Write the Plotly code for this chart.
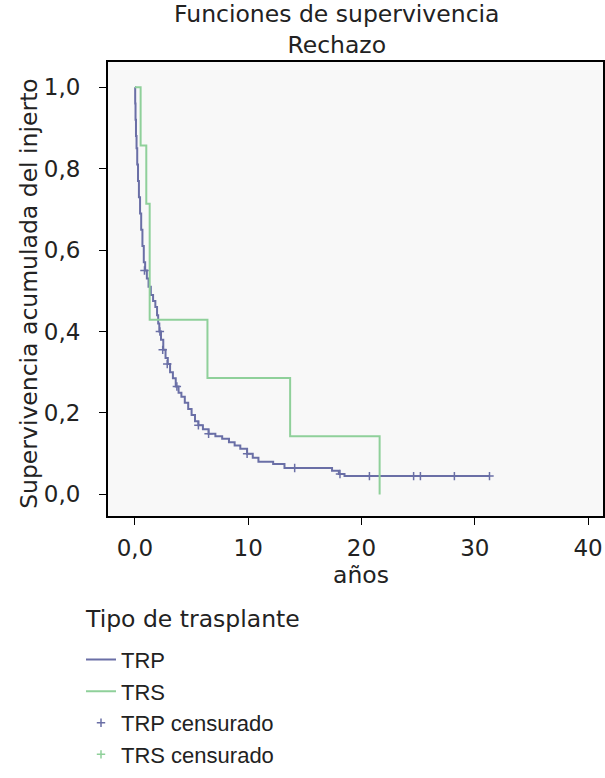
import plotly.graph_objects as go

# ---- data ----
trp_t = [0, 0.02, 0.05, 0.09, 0.14, 0.2, 0.27, 0.35, 0.45, 0.55, 0.66, 0.78, 0.9, 1.05, 1.2, 1.4,
         1.6, 1.8, 1.95, 2.05, 2.15, 2.3, 2.5, 2.7, 2.9, 3.1, 3.35, 3.6, 3.85, 4.1, 4.4, 4.7, 5.0,
         5.3, 5.6, 6.0, 6.5, 7.1, 7.7, 8.3, 8.8, 9.3, 9.9, 10.4, 10.9, 12.2, 13.2, 17.4, 18.0, 18.5, 31.3]
trp_s = [1.0, 0.96, 0.92, 0.88, 0.85, 0.81, 0.77, 0.73, 0.69, 0.65, 0.61, 0.57, 0.55, 0.53, 0.51, 0.49,
         0.475, 0.46, 0.44, 0.42, 0.40, 0.38, 0.355, 0.335, 0.32, 0.30, 0.285, 0.265, 0.25, 0.24, 0.225, 0.21, 0.195,
         0.18, 0.17, 0.16, 0.149, 0.143, 0.137, 0.128, 0.12, 0.112, 0.10, 0.09, 0.08, 0.075, 0.065, 0.058, 0.05, 0.045, 0.045]

trs_t = [0, 0.5, 1.0, 1.3, 6.4, 13.7, 21.6]
trs_s = [1.0, 0.857, 0.714, 0.429, 0.286, 0.143, 0.0]

trp_cens_t = [0.84, 2.2, 2.45, 2.85, 3.7, 5.6, 6.5, 9.9, 14.1, 18.1, 20.7, 24.6, 25.2, 28.2, 31.3]
trp_cens_s = [0.55, 0.40, 0.355, 0.32, 0.265, 0.17, 0.149, 0.10, 0.065, 0.05, 0.045, 0.045, 0.045, 0.045, 0.045]

x_tickvals = [0, 10, 20, 30, 40]
x_ticktext = ["0,0", "10", "20", "30", "40"]
y_tickvals = [0, 0.2, 0.4, 0.6, 0.8, 1.0]
y_ticktext = ["0,0", "0,2", "0,4", "0,6", "0,8", "1,0"]

title_lines = ["Funciones de supervivencia", "Rechazo"]
x_title = "años"
y_title = "Supervivencia acumulada del injerto"
legend_title = "Tipo de trasplante"

blue = "#6a6fa6"
green = "#8fd09a"
ink = "#222222"

fig = go.Figure()
fig.add_trace(go.Scatter(x=trp_t, y=trp_s, mode="lines", line=dict(shape="hv", color=blue, width=2),
                         name="TRP", legendgroup="a"))
fig.add_trace(go.Scatter(x=trs_t, y=trs_s, mode="lines", line=dict(shape="hv", color=green, width=2),
                         name="TRS", legendgroup="b"))
fig.add_trace(go.Scatter(x=trp_cens_t, y=trp_cens_s, mode="markers",
                         marker=dict(symbol="cross-thin", size=6, line=dict(color=blue, width=1.5), color=blue),
                         name="TRP censurado", legendgroup="c"))
fig.add_trace(go.Scatter(x=[None], y=[None], mode="markers",
                         marker=dict(symbol="cross-thin", size=6, line=dict(color=green, width=1.5), color=green),
                         name="TRS censurado", legendgroup="d"))

tick_font = dict(family="DejaVu Sans", size=23, color=ink)
text_font = dict(family="DejaVu Sans", size=23.5, color=ink)

# plot area in pixels: x 108..603, y 62..528
L, R, T, B = 108, 603, 62, 528
def px(x):
    return (x - L) / (R - L)
def py(y):
    return (B - y) / (B - T)

fig.update_layout(
    width=605, height=778,
    margin=dict(l=L, r=605 - R, t=T, b=778 - B),
    paper_bgcolor="white",
    plot_bgcolor="#f8f8f8",
    xaxis=dict(range=[-2.38, 41.32], tickvals=x_tickvals, ticktext=x_ticktext, ticks="outside",
               ticklen=7, tickcolor="black", showline=True, linecolor="black", linewidth=2, mirror=True,
               showgrid=False, zeroline=False, tickfont=tick_font, automargin=False, ticklabelstandoff=3),
    yaxis=dict(range=[-0.053, 1.062], tickvals=y_tickvals, ticktext=y_ticktext, ticks="outside",
               ticklen=7, tickcolor="black", showline=True, linecolor="black", linewidth=2, mirror=True,
               showgrid=False, zeroline=False, tickfont=tick_font, automargin=False, ticklabelstandoff=14),
    legend=dict(font=dict(family="Liberation Sans", size=22, color=ink),
                x=px(81), xanchor="left", y=py(654), yanchor="top",
                bgcolor="rgba(0,0,0,0)", traceorder="grouped", tracegroupgap=0),
    showlegend=True,
    annotations=[
        dict(text="<br>".join(title_lines), xref="paper", yref="paper", x=px(336), y=py(28.5),
             xanchor="center", yanchor="middle", showarrow=False, font=text_font),
        dict(text=x_title, xref="paper", yref="paper", x=px(361), y=py(589),
             xanchor="center", yanchor="middle", showarrow=False, font=text_font),
        dict(text=y_title, xref="paper", yref="paper", x=px(29), y=py(300), textangle=-90,
             xanchor="center", yanchor="middle", showarrow=False, font=text_font),
        dict(text=legend_title, xref="paper", yref="paper", x=px(83), y=py(634),
             xanchor="left", yanchor="middle", showarrow=False, font=text_font),
    ],
)

fig.write_html("out.html", config={"displayModeBar": False},
               post_script="document.body.style.margin='0';document.body.style.overflow='hidden';")
